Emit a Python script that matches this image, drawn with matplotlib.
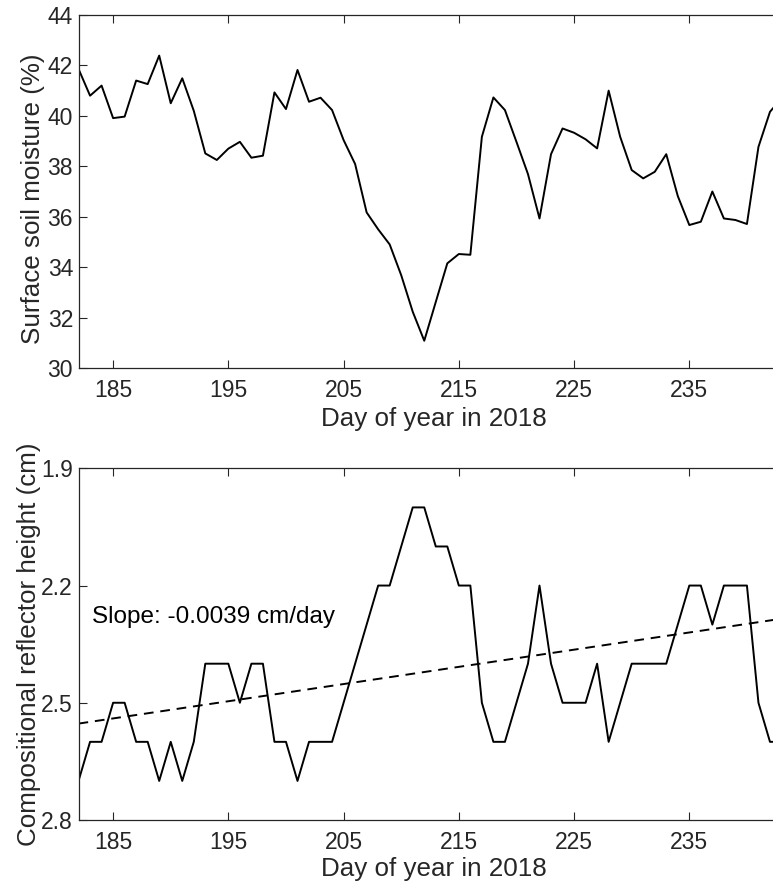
import matplotlib
matplotlib.use("Agg")
import matplotlib.pyplot as plt
import numpy as np

plt.rcParams['font.family'] = ['Liberation Sans', 'DejaVu Sans']

# Data
days = np.arange(182, 244)
soil_moisture = [41.86, 40.80, 41.20, 39.91, 39.97, 41.40, 41.26, 42.39, 40.50, 41.49,
                 40.20, 38.51, 38.25, 38.70, 38.97, 38.34, 38.42, 40.93, 40.27, 41.82,
                 40.56, 40.72, 40.23, 39.04, 38.09, 36.17, 35.50, 34.90, 33.68, 32.23,
                 31.08, 32.62, 34.15, 34.52, 34.49, 39.17, 40.73, 40.23, 38.97, 37.69,
                 35.93, 38.48, 39.50, 39.33, 39.07, 38.71, 41.00, 39.17, 37.85, 37.52,
                 37.78, 38.48, 36.82, 35.67, 35.80, 37.00, 35.93, 35.87, 35.71, 38.77,
                 40.16, 40.70]
reflector_height = [2.7, 2.6, 2.6, 2.5, 2.5, 2.6, 2.6, 2.7, 2.6, 2.7,
                    2.6, 2.4, 2.4, 2.4, 2.5, 2.4, 2.4, 2.6, 2.6, 2.7,
                    2.6, 2.6, 2.6, 2.5, 2.4, 2.3, 2.2, 2.2, 2.1, 2.0,
                    2.0, 2.1, 2.1, 2.2, 2.2, 2.5, 2.6, 2.6, 2.5, 2.4,
                    2.2, 2.4, 2.5, 2.5, 2.5, 2.4, 2.6, 2.5, 2.4, 2.4,
                    2.4, 2.4, 2.3, 2.2, 2.2, 2.3, 2.2, 2.2, 2.2, 2.5,
                    2.6, 2.6]
x_ticks = [185, 195, 205, 215, 225, 235]
sm_ticks = [30, 32, 34, 36, 38, 40, 42, 44]
rh_ticks = [1.9, 2.2, 2.5, 2.8]

fig = plt.figure(figsize=(7.73, 8.88), dpi=100)
ax1 = fig.add_axes([0.1016, 0.5856, 0.9094, 0.3975])
ax2 = fig.add_axes([0.1016, 0.0766, 0.9094, 0.3960])

spine_col = '#262626'
for ax in (ax1, ax2):
    for s in ax.spines.values():
        s.set_color(spine_col)
        s.set_linewidth(0.9)
    ax.tick_params(direction='in', length=6, width=0.8, color=spine_col,
                   labelsize=16.5, labelcolor=spine_col, top=True, right=True)
    ax.tick_params(axis='x', pad=8)
    ax.tick_params(axis='y', pad=4)
    ax.set_xlim(182, 243)
    ax.set_xticks(x_ticks)
    ax.set_xlabel("Day of year in 2018", fontsize=18.7, color=spine_col)

# Top panel
ax1.plot(days, soil_moisture, color='black', lw=1.4)
ax1.set_ylim(30, 44)
ax1.set_yticks(sm_ticks)
ax1.set_ylabel("Surface soil moisture (%)", fontsize=18.7, color=spine_col)
ax1.xaxis.set_label_coords(0.505, -0.11)
ax1.yaxis.set_label_coords(-0.047, 0.48)

# Bottom panel (reversed y axis)
ax2.plot(days, reflector_height, color='black', lw=1.4)
fit_days = days[days <= 242]
coef = np.polyfit(fit_days, np.array(reflector_height)[:len(fit_days)], 1)
trend_x = np.array([182, 243])
ax2.plot(trend_x, np.polyval(coef, trend_x), color='black', lw=1.4, ls=(0, (5, 3.5)))
ax2.set_ylim(2.8, 1.9)
ax2.set_yticks(rh_ticks)
ax2.set_ylabel("Compositional reflector height (cm)", fontsize=18.7, color=spine_col)
ax2.xaxis.set_label_coords(0.505, -0.105)
ax2.yaxis.set_label_coords(-0.054, 0.5)
ax2.text(183.2, 2.28, "Slope: -0.0039 cm/day", fontsize=17.5, color='black', va='center')

fig.savefig("out.png", dpi=100)
